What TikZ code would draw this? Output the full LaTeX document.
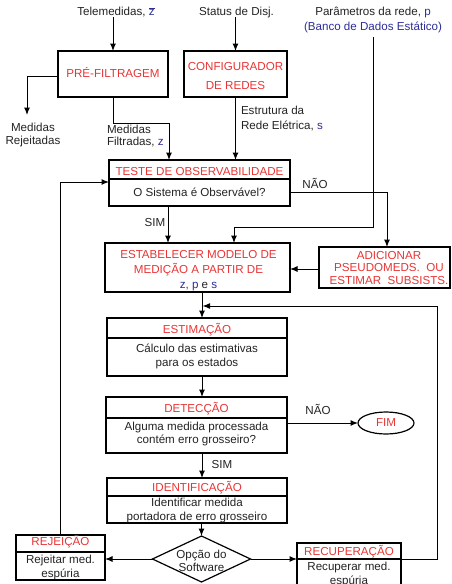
\documentclass[tikz,border=0pt]{standalone}
\usepackage{fontspec}
\setmainfont{Liberation Sans}
\usetikzlibrary{shapes.geometric,arrows.meta}
\definecolor{tred}{RGB}{232,52,52}
\definecolor{tblue}{RGB}{45,45,150}
\definecolor{tblk}{RGB}{35,35,35}
\begin{document}
\begin{tikzpicture}[x=1pt,y=-1pt,
  every node/.style={font=\fontsize{11.6}{13}\selectfont, text=tblk, inner sep=0pt, outer sep=0pt},
  box/.style={draw=black, line width=1.2pt},
  divline/.style={draw=black, line width=1.2pt},
  arr/.style={draw=black, line width=1pt, -{Latex[length=7.5pt,width=6pt]}},
  plain/.style={draw=black, line width=1pt},
  ttl/.style={text=tred},
  ml/.style={align=center, font=\fontsize{11.6}{#1}\selectfont},
]
\clip (0,0) rectangle (451,584);

% ---------- boxes ----------
\node[box, minimum width=110, minimum height=46] (pre) at (113,74) {};
\node[box, minimum width=103, minimum height=46] (conf) at (235.5,74) {};
\node[box, minimum width=181, minimum height=46] (teste) at (199.5,183) {};
\node[box, minimum width=185, minimum height=49] (estab) at (197.5,267.5) {};
\node[box, minimum width=131, minimum height=41] (adic) at (384.5,267.5) {};
\node[box, minimum width=180, minimum height=58] (estim) at (197,347) {};
\node[box, minimum width=181, minimum height=56] (detec) at (196.5,425) {};
\node[box, minimum width=180, minimum height=45] (ident) at (197,500.5) {};
\node[box, minimum width=89, minimum height=45] (rej) at (60.5,557.5) {};
\node[box, minimum width=104, minimum height=49] (recup) at (349,567.5) {};
\node[box, ellipse, minimum width=56, minimum height=22, text=tred] (fim) at (386,423) {FIM};
\node[box, diamond, minimum width=98, minimum height=46] (dia) at (201.5,559) {};

% dividers
\draw[divline] (teste.west |- 0,179) -- (teste.east |- 0,179);
\draw[divline] (estim.west |- 0,338) -- (estim.east |- 0,338);
\draw[divline] (detec.west |- 0,418) -- (detec.east |- 0,418);
\draw[divline] (ident.west |- 0,496) -- (ident.east |- 0,496);
\draw[divline] (rej.west |- 0,552) -- (rej.east |- 0,552);
\draw[divline] (recup.west |- 0,559) -- (recup.east |- 0,559);

% ---------- texts in boxes ----------
\node[ttl] (preT) at (113,73) {PRÉ-FILTRAGEM};
\node[ttl, ml=19] (confT) at (235.5,76.5) {CONFIGURADOR\\DE REDES};
\node[ttl] (testeT) at (199.5,171.5) {TESTE DE OBSERVABILIDADE};
\node (testeB) at (199.5,192) {O Sistema é Observável?};
\node[ml=15] (estabT) at (198.5,271) {\textcolor{tred}{ESTABELECER MODELO DE}\\\textcolor{tred}{MEDIÇÃO A PARTIR DE}\\\textcolor{tblue}{z, p} e \textcolor{tblue}{s}};
\node[ttl, ml=12.5] (adicT) at (389,268) {ADICIONAR\\PSEUDOMEDS.\ \ OU\\ESTIMAR\ \ SUBSISTS.};
\node[ttl] (estimT) at (197,330) {ESTIMAÇÃO};
\node[ml=14] (estimB) at (197,356) {Cálculo das estimativas\\para os estados};
\node[ttl] (detecT) at (196.5,409) {DETECÇÃO};
\node[ml=12.5] (detecB) at (196.5,434) {Alguma medida processada\\contém erro grosseiro?};
\node[ttl] (identT) at (197,488) {IDENTIFICAÇÃO};
\node[ml=14] (identB) at (197,510) {Identificar medida\\portadora de erro grosseiro};
\node[ttl] (rejT) at (60.5,542) {REJEIÇÃO};
\node[ml=14] (rejB) at (60.5,567) {Rejeitar med.\\espúria};
\node[ttl] (recupT) at (349,552) {RECUPERAÇÃO};
\node[ml=14] (recupB) at (349,574) {Recuperar med.\\espúria};
\node[ml=13] (diaT) at (201.5,560.5) {Opção do\\Software};

% ---------- free texts ----------
\node (tele) at (116,12) {Telemedidas, \textcolor{tblue}{$\overline{\mbox{z}}$}};
\node (stat) at (236.5,12) {Status de Disj.};
\node (param1) at (373,12) {Parâmetros da rede, \textcolor{tblue}{p}};
\node[text=tblue] (param2) at (373,27) {(Banco de Dados Estático)};
\node[ml=12.5] (rejlbl) at (33,135) {Medidas\\Rejeitadas};
\node[align=left, font=\fontsize{11.6}{12}\selectfont, anchor=west] (filtlbl) at (107,136.5) {Medidas\\Filtradas, \textcolor{tblue}{z}};
\node[align=left, font=\fontsize{11.6}{15}\selectfont, anchor=west] (estlbl) at (241,118.5) {Estrutura da\\Rede Elétrica, \textcolor{tblue}{s}};
\node (nao1) at (315,183) {NÃO};
\node (sim1) at (155,223) {SIM};
\node (nao2) at (318,409) {NÃO};
\node (sim2) at (222,465) {SIM};

% ---------- coordinates ----------
\coordinate (rejtip) at (27,115);
\coordinate (filtbend) at (169,123);
\coordinate (pbend) at (234,227);
\coordinate (naobend) at (387,192);
\coordinate (merge) at (202,306);
\coordinate (loopR) at (437,306);

% ---------- connectors ----------
\draw[arr] (tele.south -| pre.north) -- (pre.north);
\draw[arr] (stat.south -| conf.north) -- (conf.north);
\draw[arr] (pre.west |- 0,76) -| (rejtip);
\draw[arr] (pre.south) |- (filtbend) -- (filtbend |- teste.north);
\draw[arr] (conf.south) -- (conf.south |- teste.north);
\draw[arr, shorten <=5pt] (param2.south) |- (pbend) -- (pbend |- estab.north);
\draw[arr] (teste.south -| 168,0) -- (estab.north -| 168,0);
\draw[arr] (teste.east |- naobend) -- (naobend) -- (naobend |- adic.north);
\draw[arr] (adic.west |- 0,269) -- (estab.east |- 0,269);
\draw[arr] (estab.south -| merge) -- (estim.north -| merge);
\draw[arr] (estim.south -| 202,0) -- (detec.north -| 202,0);
\draw[arr] (detec.east |- fim.west) -- (fim.west);
\draw[arr] (detec.south -| 202,0) -- (ident.north -| 202,0);
\draw[arr] (ident.south -| dia.north) -- (dia.north);
\draw[arr] (dia.west) -- (rej.east |- dia.west);
\draw[arr] (dia.east) -- (recup.west |- dia.east);
\draw[arr] (recup.east |- dia.east) -| (loopR) -- ([xshift=0.6pt]merge);
\draw[arr] (rej.north) |- (teste.west |- 0,182);
\end{tikzpicture}
\end{document}
